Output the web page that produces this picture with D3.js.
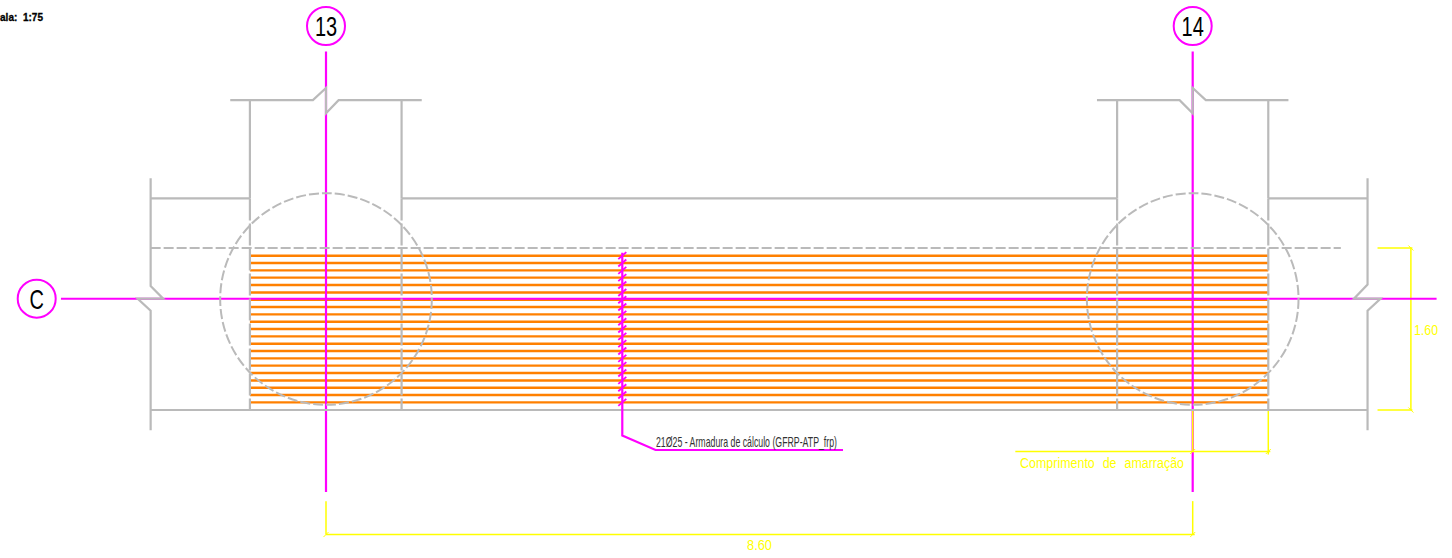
<!DOCTYPE html>
<html>
<head>
<meta charset="utf-8">
<script src="https://cdn.jsdelivr.net/npm/d3@7"></script>
<style>
  html, body { margin: 0; padding: 0; background: #fff; }
  svg { display: block; }
  text { font-family: "Liberation Sans", sans-serif; }
</style>
</head>
<body>
<script>
// model units are metres: x from axis 13, y up from the bottom face of the slab
const axisLabels = ["13", "14"];
const axisPositions = [0, 8.60];
const rowLabel = "C";
const rowLevel = 1.10;

// 21 bars
const barLevels = [1.524, 1.452, 1.379, 1.307, 1.235, 1.161, 1.089, 1.017, 0.944, 0.872, 0.800,
  0.727, 0.655, 0.583, 0.510, 0.438, 0.365, 0.292, 0.220, 0.148, 0.075];
const barExtent = [-0.755, 9.35];

const anchorageRadius = 1.05;

// solid concrete outlines
const solidLines = [
  [[-0.95, 3.06], [-0.13, 3.06], [0, 3.18], [0, 2.93], [0.125, 3.06], [0.95, 3.06]],
  [[7.65, 3.06], [8.47, 3.06], [8.60, 2.93], [8.60, 3.18], [8.73, 3.06], [9.55, 3.06]],
  [[-0.755, 3.06], [-0.755, 2.09]],
  [[0.75, 3.06], [0.75, 2.09]],
  [[7.85, 3.06], [7.85, 2.09]],
  [[9.35, 3.06], [9.35, 2.09]],
  [[-1.74, 2.09], [-0.755, 2.09]],
  [[0.75, 2.09], [7.85, 2.09]],
  [[9.35, 2.09], [10.335, 2.09]],
  [[-1.74, 2.29], [-1.74, 1.225], [-1.615, 1.10], [-1.87, 1.10], [-1.74, 0.98], [-1.74, -0.2]],
  [[10.335, 2.29], [10.335, 1.24], [10.2, 1.10], [10.465, 1.10], [10.335, 0.98], [10.335, -0.2]],
  [[-1.74, 0], [10.335, 0]]
];

// hidden edges
const dashedLines = [
  [[-1.74, 1.6], [10.07, 1.6]]
];
const longDashLines = [
  [[-0.755, 2.09], [-0.755, 0]],
  [[0.75, 2.09], [0.75, 0]],
  [[7.85, 2.09], [7.85, 0]],
  [[9.35, 2.09], [9.35, 0]]
];

const axisLineRange = [-0.81, 3.54];
const rowLineRange = [-2.63, 11.02];
const leaderLine = [[2.94, 1.553], [2.94, -0.253], [3.27, -0.395], [5.13, -0.395]];
const leaderLabel = "21Ø25 - Armadura de cálculo (GFRP-ATP_frp)";

const dimLines = [
  [[10.434, 1.6], [10.78, 1.6]],
  [[10.434, 0], [10.78, 0]],
  [[10.765, 1.6], [10.765, 0]],
  [[6.84, -0.41], [9.37, -0.41]],
  [[8.60, 0], [8.60, -0.41]],
  [[9.35, 0], [9.35, -0.44]],
  [[0, -0.90], [0, -1.23]],
  [[8.60, -0.90], [8.60, -1.23]],
  [[0, -1.23], [8.62, -1.23]]
];
const backTicks = [[10.765, 1.6], [10.765, 0]];
const forwardTicks = [[8.60, -0.41], [9.35, -0.41], [0, -1.23], [8.60, -1.23]];
const dimLabels = ["1.60", "Comprimento de amarração", "8.60"];
const scaleLabel = "ala:  1:75";

const svgWidth = 1452, svgHeight = 558;

const x = d3.scaleLinear().domain([0, 8.60]).range([326, 1192.7]);
const y = d3.scaleLinear().domain([0, 1.60]).range([410, 248]);
const line = d3.line().x(d => x(d[0])).y(d => y(d[1]));

const grey = "#bababa", magenta = "#ff00ff", orange = "#ff8000", yellow = "#ffff00";

const svg = d3.select("body")
  .append("svg")
  .attr("width", svgWidth)
  .attr("height", svgHeight);

function drawLines(data, color, w, dash) {
  svg.append("g")
    .attr("fill", "none")
    .attr("stroke", color)
    .attr("stroke-width", w)
    .attr("stroke-dasharray", dash || null)
    .selectAll("path")
    .data(data)
    .enter()
    .append("path")
    .attr("d", line);
}

function drawTicks(data, dir) {
  svg.append("g")
    .selectAll("line")
    .data(data)
    .enter()
    .append("line")
    .attr("x1", d => x(d[0]) - 2.5)
    .attr("x2", d => x(d[0]) + 2.5)
    .attr("y1", d => y(d[1]) + dir * 2.5)
    .attr("y2", d => y(d[1]) - dir * 2.5)
    .attr("stroke", yellow)
    .attr("stroke-width", 1);
}

// Reinforcement
svg.append("g")
  .selectAll("line")
  .data(barLevels)
  .enter()
  .append("line")
  .attr("x1", x(barExtent[0]))
  .attr("x2", x(barExtent[1]))
  .attr("y1", d => y(d))
  .attr("y2", d => y(d))
  .attr("stroke", orange)
  .attr("stroke-width", 2.4);

// Axes, dimensions go over the verticals and under the row line
drawLines(axisPositions.map(p => [[p, axisLineRange[0]], [p, axisLineRange[1]]]), magenta, 2.2);
drawLines(dimLines, yellow, 1.5);
drawTicks(backTicks, -1);
drawTicks(forwardTicks, 1);
drawLines([[[rowLineRange[0], rowLevel], [rowLineRange[1], rowLevel]]], magenta, 2);

// Concrete
drawLines(longDashLines, grey, 2.2, "22 3");
drawLines(dashedLines, grey, 2.2, "10 3");
drawLines(solidLines, grey, 2.2);

svg.append("g")
  .selectAll("circle")
  .data(axisPositions)
  .enter()
  .append("circle")
  .attr("cx", d => x(d))
  .attr("cy", y(rowLevel) + 0.4)
  .attr("r", x(anchorageRadius) - x(0))
  .attr("fill", "none")
  .attr("stroke", grey)
  .attr("stroke-width", 2)
  .attr("stroke-dasharray", "10 3");

// Bar leader with one tick per bar
drawLines([leaderLine], magenta, 2.2);
svg.append("g")
  .selectAll("line")
  .data(barLevels)
  .enter()
  .append("line")
  .attr("x1", x(leaderLine[0][0]) - 4)
  .attr("x2", x(leaderLine[0][0]) + 4)
  .attr("y1", d => y(d) + 3.5)
  .attr("y2", d => y(d) - 3.5)
  .attr("stroke", magenta)
  .attr("stroke-width", 1.8);

svg.append("text")
  .attr("x", 656)
  .attr("y", 447)
  .attr("font-size", 14.5)
  .attr("textLength", 181)
  .attr("lengthAdjust", "spacingAndGlyphs")
  .attr("fill", "#333")
  .text(leaderLabel);

// Axis bubbles
const bubbles = axisLabels.map((t, i) => ({ t, cx: x(axisPositions[i]), cy: 26 }))
  .concat([{ t: rowLabel, cx: 36.7, cy: y(rowLevel) }]);

const bubble = svg.append("g")
  .selectAll("g")
  .data(bubbles)
  .enter()
  .append("g")
  .attr("transform", d => `translate(${d.cx},${d.cy})`);

bubble.append("circle")
  .attr("r", 19)
  .attr("fill", "#fff")
  .attr("stroke", magenta)
  .attr("stroke-width", 2);

bubble.append("text")
  .attr("text-anchor", "middle")
  .attr("transform", "translate(0,10) scale(0.74,1)")
  .attr("font-size", 27)
  .attr("fill", "#000")
  .text(d => d.t);

// Dimension labels
svg.append("g")
  .attr("fill", yellow)
  .selectAll("text")
  .data(dimLabels)
  .enter()
  .append("text")
  .attr("x", (d, i) => [1414, 1020, 747][i])
  .attr("y", (d, i) => [335, 468, 550][i])
  .attr("font-size", (d, i) => [15, 14, 15][i])
  .attr("word-spacing", (d, i) => i === 1 ? 5 : 0)
  .attr("textLength", (d, i) => [24, 164, 25][i])
  .attr("lengthAdjust", "spacingAndGlyphs")
  .text(d => d);

svg.append("text")
  .attr("x", 0)
  .attr("y", 21)
  .attr("font-size", 10)
  .attr("font-weight", "bold")
  .attr("textLength", 43)
  .attr("xml:space", "preserve")
  .attr("fill", "#000")
  .attr("stroke", "#000")
  .attr("stroke-width", 0.3)
  .text(scaleLabel);
</script>
</body>
</html>
